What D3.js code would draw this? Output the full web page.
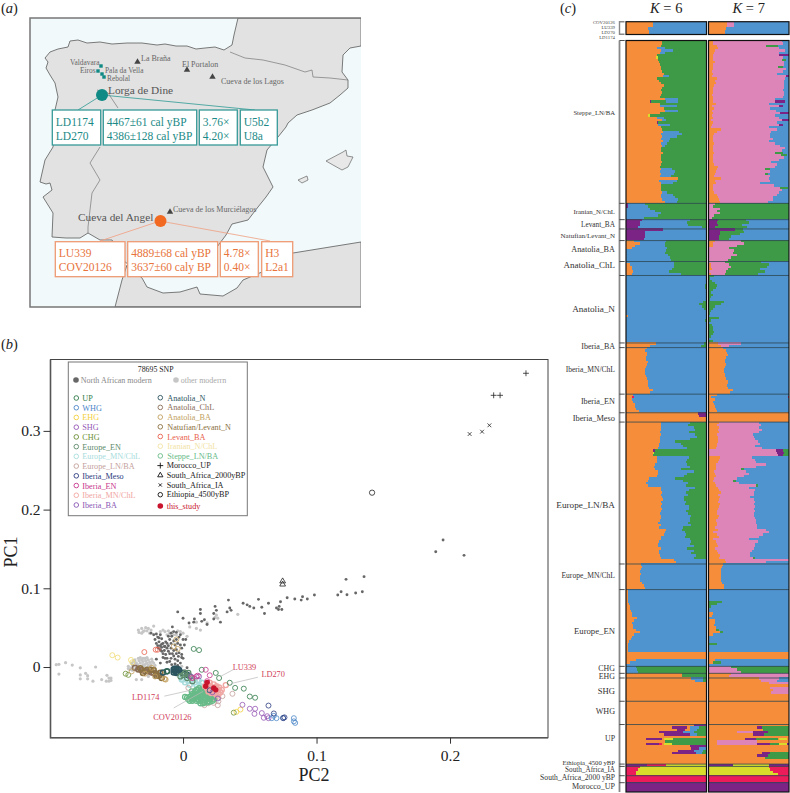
<!DOCTYPE html>
<html>
<head>
<meta charset="utf-8">
<script src="https://cdn.jsdelivr.net/npm/d3@7"></script>
<style>
body { margin: 0; background: #fff; }
svg { display: block; }
text { font-family: "Liberation Serif", serif; }
</style>
</head>
<body>
<div id="vis"></div>
<script>
// ---------- panel a: map outlines, in picture units ----------
var iberiaFrance = [[238,18],[234,35],[232,45],[224,50],[215,47],[205,48],[196,49],[187,46],[176,46],[165,44],[157,45],[142,43],[127,43],[112,44],[100,42],[87,43],[78,40],[70,41],[68,47],[58,49],[50,52],[45,58],[48,62],[46,68],[50,75],[55,83],[58,97],[55,110],[57,118],[53,147],[45,160],[40,182],[46,184],[50,183],[52,190],[43,197],[53,213],[52,237],[66,238],[80,238],[88,233],[100,240],[112,240],[125,262],[140,272],[200,272],[217,247],[226,235],[232,224],[248,220],[258,207],[266,197],[273,187],[263,167],[267,150],[278,137],[286,127],[288,123],[297,115],[312,110],[330,103],[340,95],[348,88],[348,80],[342,72],[343,55],[350,48],[361,46],[361,18]];
var africa = [[127,265],[122,280],[115,307],[361,307],[361,242],[330,247],[293,253],[262,272],[243,280],[237,288],[223,296],[200,294],[197,287],[180,292],[163,293],[147,287],[142,278]];
var mallorca = [[326,161],[343,152],[346,150],[347,156],[353,157],[348,167],[342,170],[333,165]];
var ibiza = [[298,180],[307,176],[308,180],[302,183]];
var pyrenees = [[230,52],[245,58],[263,60],[285,65],[305,72],[312,70],[313,77],[330,78],[348,80]];
var portugalNorth = [[97,90],[108,93],[118,108]];
var portugalEast = [[100,147],[90,163],[100,180],[92,193],[88,227],[88,233]];

var siteNames = ["Valdavara","Eiros","Pala da Vella","Rebolal","La Braña","El Portalon","Cueva de los Lagos","Cueva de los Murciélagos"];
var sitePos = [[70,65],[80,73],[105,72.5],[107,80.5],[141,61],[182,67],[221,84],[173,212]];
var triangleSites = [[137.5,62],[187,70],[212.5,77],[170,212]];
var squareSites = [[101,66],[98,71],[102,74],[104,77]];

var tealCells = [["LD1174","LD270"],["4467±61 cal yBP","4386±128 cal yBP"],["3.76×","4.20×"],["U5b2","U8a"]];
var orangeCells = [["LU339","COV20126"],["4889±68 cal yBP","3637±60 caly BP"],["4.78×","0.40×"],["H3","L2a1"]];

// ---------- panel b: PCA values as [PC2, PC1] ----------
var otherModern = [[-.095,.003],[-.093,.0034],[-.088,.0055],[-.083,.0025],[-.077,-.001],[-.0655,0],[-.093,-.009],[-.077,-.01],[-.073,-.008],[-.0715,-.011],[-.0715,-.015],[-.077,-.015],[-.0675,-.018],[-.061,-.016],[-.057,-.0105],[-.0555,-.014],[-.0575,-.018],[-.0555,-.018],[-.054,-.017],[-.054,-.014],
[-.041,.001],[-.0385,.005],[-.036,.009],[-.0335,.011],[-.031,.009],[-.0285,.011],[-.026,.009],[-.037,.001],[-.035,.005],[-.032,.005],[-.03,.003],[-.027,.005],[-.025,.001],[-.022,.005],[-.0335,-.001],[-.031,-.001],[-.027,-.001],[-.036,-.003],[-.039,-.001],[-.04,-.003],[-.03,.007],[-.0235,.01],
[-.038,.003],[-.036,.006],[-.034,.003],[-.033,.008],[-.03,.011],[-.028,.008],[-.029,.002],[-.025,.006],[-.024,.003],[-.041,-.002],[-.038,-.004],[-.035,.001],[-.034,-.003],[-.03,-.003],[-.028,.004],[-.026,.002],[-.023,.007],[-.021,.002],[-.032,.012],[-.027,.012],[-.037,.008],
[-.0335,.047],[-.031,.049],[-.03,.045],[-.026,.049],[-.022,.052],[-.025,.043],[-.031,.043],[-.027,.046],[-.029,.046],[-.028,.05],[-.024,.047],[-.033,.044],[-.035,-.016],[-.031,-.016],[-.026,-.012],
[-.0135,.045],[-.01,.043],[-.005,.041],[-.002,.045],[0,.043],[.003,.039],[-.012,.041],[-.007,.041],[-.017,.045],[-.015,.047],[-.011,.046],[-.008,.044],[-.004,.046],[-.001,.001],[.0015,-.012],[.005,-.016],[.01,-.016],[.013,-.018],[.004,-.012],[.008,-.012],
[.005,.051],[.01,.049],[.013,.047],[.01,.057],[.025,.066],[.026,.062],[.041,.067],[.018,.056],[.024,.063]];
var northAfrican = [[-.004,.07],[0,.062],[.0045,.056],[.008,.057],[.0085,.061],[.013,.073],[.013,.068],[.014,.058],[.016,.06],[.018,.054],[.023,.068],[.024,.077],[.025,.072],[.023,.061],[.028,.057],[.033,.07],[.034,.085],[.035,.075],[.036,.072],[.045,.081],[.048,.079],[.05,.077],[.053,.075],[.0565,.086],[.059,.076],[.061,.068],[.064,.081],[.07,.075],[.0715,.073],[.073,.083],[.074,.073],[.072,.077],[.078,.088],[.0837,.0865],[.0885,.085],[.0895,.0893],[.0931,.0864],[.0984,.0915],[.1159,.0915],[.1184,.0957],[.1228,.0919],[.1221,.1114],[.1293,.094],[.1343,.0957],[.1356,.1148],[.1893,.1465],[.1948,.1614],[.2105,.1419],
[-.024,.043],[-.022,.041],[-.02,.042],[-.017,.041],[-.021,.035],[-.018,.037],[-.02,.03],[-.017,.027],[-.015,.03],[-.013,.032],[-.011,.027],[-.01,.035],[-.0085,.039],[-.007,.045],[-.005,.044],[-.008,.051],[-.002,.041],[0,.035],[.002,.035],[.001,.028],[-.017,.022],[-.015,.017],[-.0135,.011],[-.012,.006],[-.009,.024],[-.011,.02],[-.007,.021],[-.005,.017],[-.0035,.0135],[-.001,.016],[0,.011],[-.006,.01],[-.002,.005],[-.0085,.003],[-.017,.005],[-.02,.01],[-.0135,.026],[-.016,.025],[-.0185,.024],[.003,-.001],[.0015,-.005],[-.009,.011],[-.012,.024],[-.006,.028],[-.005,.022],[-.001,.024],
[-.019,.027],[-.016,.029],[-.018,.032],[-.014,.026],[-.012,.03],[-.016,.02],[-.014,.021],[-.013,.016],[-.01,.017],[-.008,.017],[-.007,.014],[-.009,.03],[-.007,.033],[-.005,.035],[-.004,.03],[-.003,.038],[-.003,.018],[-.001,.012],[-.004,.008],[-.015,.012],[-.012,.011],[-.01,.007],[-.006,.004],[-.004,.002],[-.002,.028],[-.011,.039],[-.009,.043],[-.019,.038],[-.016,.036]];

var ptUP = [[.008,.023],[.012,.0215],[.014,-.0035],[.0245,-.0075],[.027,-.014],[.035,-.02],[.039,-.0265],[.0455,-.0275],[.05,-.0375],[.054,-.039],[-.012,-.0055]];
var ptWHG = [[.083,-.065],[.084,-.071],[.07,-.065],[.0665,-.065],[.068,-.062],[.075,-.0645],[.083,-.069]];
var ptEHG = [[.043,-.054],[.04,-.057]];
var ptSHG = [[.0445,-.048],[.05,-.053],[.054,-.053],[.0535,-.0595],[.059,-.0585],[.0605,-.0645],[.063,-.0625],[.064,-.065]];
var ptCHG = [[-.043,-.0085],[-.041,-.01],[.038,-.058]];
var ptEuropeEN = [[0,-.01],[.003,-.014],[.005,-.012],[-.002,-.012],[.0015,-.0075],[.007,-.018],[.004,-.0075]];
var ptEuropeMN = [[-.001,-.012],[0,-.016],[.0015,-.0195],[.004,-.018],[.0065,-.016],[.009,-.0195],[.0115,-.017],[.014,-.02],[.005,-.0225],[.01,-.0225],[.013,-.0245],[-.001,-.016]];
var ptEuropeLN = [[.016,-.0485],[.026,-.0485],[.037,-.034],[.0295,-.037],[.0265,-.039],[.023,-.0455],[.019,-.046],[.0265,-.0435],[.0065,-.014],[.004,-.0265],[.024,-.041]];
var ptIberiaMeso = [[.064,-.049],[.068,-.059],[.075,-.065],[.02,-.0295],[.076,-.064]];
var ptIberiaEN = [[.017,-.0035],[.01,-.012],[.02,-.0105],[.018,-.018],[.007,-.014],[.011,-.011]];
var ptIberiaMN = [[.02,-.0245],[.023,-.022],[.025,-.0245],[.0265,-.029],[.028,-.032],[.024,-.0295],[.0215,-.028],[.019,-.031],[.025,-.035],[.023,-.033],[.0265,-.035],[.0165,-.0245],[.02,-.02],[.032,-.023],[.018,-.027],[.021,-.025],[.022,-.03],[.025,-.027],[.027,-.026],[.019,-.023],[.024,-.033],[.021,-.033],[.029,-.029]];
var ptIberiaBA = [[.012,-.012],[.022,-.032],[.026,-.04],[.006,-.012]];
var ptAnatoliaN = [[-.007,-.003],[-.006,-.0055],[-.005,-.004],[-.0035,-.007],[-.005,-.0075],[-.004,-.0025],[-.007,-.007],[-.003,-.004],[-.006,-.002],[-.012,-.0055],[-.015,-.007],[0,-.0075],[.003,-.01]];
var ptAnatoliaChL = [[-.036,-.001],[-.0335,-.003],[-.031,-.004],[-.0285,-.0055],[-.026,-.0055],[-.0235,-.007],[-.022,-.0075],[-.02,-.0085]];
var ptAnatoliaBA = [[-.0285,-.0085],[-.021,-.012],[-.014,-.015],[-.0135,-.0155],[-.013,-.016],[-.007,.026],[-.004,.023],[-.005,.035],[-.0235,-.001],[-.0385,-.0055]];
var ptNatufian = [[-.018,-.011],[-.016,-.014],[-.024,-.0035],[-.027,-.0035],[-.03,-.0075],[-.032,-.0015],[-.022,-.004],[-.02,-.011],[-.017,-.0075]];
var ptLevant = [[-.029,.019],[-.0205,.022],[-.019,.022]];
var ptIranian = [[-.039,.009],[-.038,.006],[-.053,.015],[-.049,.012]];
var ptSteppe = [[.0015,-.038],[.004,-.041],[.006,-.037],[.008,-.041],[.01,-.037],[.0115,-.041],[.013,-.035],[.014,-.039],[.016,-.042],[.018,-.037],[.02,-.0405],[.021,-.035],[.0065,-.031],[.01,-.029],[.013,-.031],[.015,-.032],[.018,-.031],[.008,-.035],[.01,-.043],[.013,-.046],[.015,-.046],[.009,-.031],[.005,-.043],[.019,-.043],[.023,-.037],[.023,-.041],[.0115,-.034],[.014,-.034],[.0165,-.034],[.0165,-.039],[.009,-.039],[.0065,-.04],[.013,-.041],[.018,-.035],
[.007,-.034],[.009,-.036],[.011,-.038],[.012,-.033],[.015,-.036],[.017,-.036],[.019,-.039],[.021,-.039],[.022,-.043],[.012,-.043],[.014,-.043],[.016,-.045],[.018,-.045],[.02,-.044],[.007,-.043],[.005,-.038],[.003,-.039],[.008,-.038],[.011,-.029],[.012,-.027],[.014,-.029],[.017,-.028]];
var ptThisStudy = [[.017,-.0245],[.018,-.0195],[.023,-.0265],[.0245,-.029]];
var ptMorocco = [[.2569,.3732],[.2327,.3452],[.2375,.3452]];
var ptSouthAfrica2000 = [[.0746,.109],[.0746,.105]];
var ptSouthAfricaIA = [[.2147,.296],[.224,.299],[.2295,.3071]];
var ptEthiopia = [[.1416,.2215]];

var pcTicksX = [0, 0.1, 0.2];
var pcTicksY = [0, 0.1, 0.2, 0.3];

var legendCol1 = ["UP","WHG","EHG","SHG","CHG","Europe_EN","Europe_MN/ChL","Europe_LN/BA","Iberia_Meso","Iberia_EN","Iberia_MN/ChL","Iberia_BA"];
var legendCol1Colors = ["#2f7a48","#4b86c8","#f2cf3c","#9457b5","#6c8f35","#5c8a6a","#a8dcdc","#c4a09c","#2c3c80","#c7368c","#f0a6a2","#8a58b4"];
var legendCol2 = ["Anatolia_N","Anatolia_ChL","Anatolia_BA","Natufian/Levant_N","Levant_BA","Iranian_N/ChL","Steppe_LN/BA"];
var legendCol2Colors = ["#2c5560","#8a6d58","#c19f5e","#8a7040","#e8604c","#f2e2a2","#68bb88"];
var legendSpecial = ["Morocco_UP","South_Africa_2000yBP","South_Africa_IA","Ethiopia_4500yBP"];

var annotNames = ["LU339","LD270","LD1174","COV20126"];
var annotText = [[.046,.0],[.0675,-.0085],[-.028,-.0385],[-.008,-.0635]];
var annotFrom = [[.038,-.003],[.056,-.013],[-.014,-.037],[-.007,-.052]];
var annotTo = [[.028,-.012],[.036,-.021],[.007,-.029],[.015,-.031]];

// ---------- panel c: admixture rows, top to bottom, letters are components ----------
// o orange, b blue, g green, p pink, v purple, y yellow, r red, number is percent, no number = the rest
var compColors = {o:"#f68d3a", b:"#4f93cf", g:"#3f9a48", p:"#dd84b8", v:"#7c2485", y:"#d8dd2c", r:"#ec1c5b"};

var sampleK6 = ["o34b","o34b","o27b","o28b"];
var sampleK7 = ["o23p9b","o23p9b","o22b","o21b"];
var sampleNames = ["COV20126","LU339","LD270","LD1174"];

var groupNames = ["Steppe_LN/BA","Iranian_N/ChL","Levant_BA","Natufian/Levant_N","Anatolia_BA","Anatolia_ChL","Anatolia_N","Iberia_BA","Iberia_MN/ChL","Iberia_EN","Iberia_Meso","Europe_LN/BA","Europe_MN/ChL","Europe_EN","CHG","EHG","SHG","WHG","UP","Ethiopia_4500 yBP","South_Africa_IA","South_Africa_2000 yBP","Morocco_UP"];
var groupCounts = [70,7,4,5,9,6,29,2,20,8,4,61,11,33,3,2,10,10,17,1,4,3,4];

var steppeK6 = ["o45g","o45g","o44g","o38b10g","o44b14g","o42b6g","o38g","o37y3g","o40g","o41g","o42g","o44g","o43g","o45g","o47g","o46b7g","o38g","o41g","o44g","o47g","o45g","o43g","o45g","o44g","o42g","o49b16g","o30v1g19b15g","o42g","o42b21g","o47g","o48b17g","o42g","o27y3g","o39b8g","o45b5g","o39v1g","o40b15g","o43g","o45g","o46b20g","o44b26g","o45b18g","o43b12g","o46b8g","o44b7g","o45b3g","o43g","o44g","o46g","o43g","o43g","o44g","o45g","o43g","o42g","o43b14g","o42b19g","o43b17g","o42b14g","o65g","o41b22g","o44b15g","o43g","o44g","o44g","o45b6g","o44b14g","o43b18g","o45b20g","o48b15g"];
var steppeK7 = ["o5p86b","o5p87b","o10p62g14b","o12p76b","o8p87b","o7p81b","o6p82v","o5p88b","o5p86g5b","o8p86b","o6p88b","o6p80g6b","o6p90b","o4p89b","o5p80b","o4p92v","o10p85b","o8p86b","o9p85b","o7p87b","o5p89b","o6p86b","o6p88b","o4p90b","o6p86b","o6p76b","o5p78v12b","o9p66b","o4p83v5b","o7p70b","o4p80b","o5p84v","o4p78b","o6p81b","o3p88v","o5p80b","o4p83v5b","o3p72b","o15p70b","o10p68b","o7p70b","o5p72b","o6p74b","o5p70b","o7p75b","o6p83b","o5p90b","o5p86b","o7p75g10b","o5p85g8b","o6p88b","o6p82b","o6p72b","o7p78b","o12p70b","o10p60g6b","o9p68b","o8p62g4b","o7p70b","o15p60b","o8p68b","o9p55b","o6p75b","o5p84g10b","o5p86b","o7p80b","o10p75b","o12p68b","o13p67b","o14p60b"];

var iranianK6 = ["v2b22g","v2b25g","b30g","b36g","b43g","b40g","b22g"];
var iranianK7 = ["p8g","p6g","p14g","p10g","p14g","p7g","p4g"];
var levantK6 = ["v20b60g","v18b58g","v17b60g","v15b80g"];
var levantK7 = ["v12g35b","v10g40b","v12g30b","v8g40b"];
var natufianK6 = ["v46b","v24b","v24b","v23b","v22b"];
var natufianK7 = ["v33g10b","v14g30b","v14g25b","v13g15b","v13g12b"];
var anatoliaBaK6 = ["o10b40g","o17b32g","o11b37g","o8b43g","b50g","b48g","b52g","b55g","b56g"];
var anatoliaBaK7 = ["o8p32g","o6p38g","o5p30g","p25g","p32g","p30g","p36g","p28g","p24g"];
var anatoliaChlK6 = ["b60g","o5b55g","o8b52g","o8b49g","o9b44g","o8b60g"];
var anatoliaChlK7 = ["p20g45b","o3p22g50b","o3p25g45b","o4p20g40b","p22g48b","o3p18g40b"];
var anatoliaNK6 = ["b","b","b","b99g","b98g","b98g","b","b","b","b","b","b96g","b91g","b94g","b97g","b","b","o2b","b","b98g","b","b","b","b","b","b","b","b","b"];
var anatoliaNK7 = ["g7b","g2b","g4b","g8b","g10b","g9b","g5b","g3b","g5b","g3b","g2b","g19b","g16b","g8b","g5b","g3b","g2b","b","g13b","g3b","b","g4b","g6b","g6b","g7b","g5b","g3b","b","g6b"];
var iberiaBaK6 = ["o37b60g","o30b63g"];
var iberiaBaK7 = ["o12p28b","o15p10b"];
var iberiaMnK6 = ["o26b","o24b","o26b","o26b","o25b","o25b","o27b","o26b","o25b","o23b","o23b","o24b","o25b","o26b","o27b","o27b","o27b","o28b","o33b","o30b"];
var iberiaMnK7 = ["o18b","o22b","o23b","o24b","o22b","o20b","o21b","o22b","o20b","o19b","o19b","o20b","o21b","o22b","o24b","o24b","o23b","o24b","o31b","o27b"];
var iberiaEnK6 = ["o9b","o7r3b","o8b","o9b","o11b","o11b","o12b","o16b"];
var iberiaEnK7 = ["o10b","o3b96r","o8b","o5b","o7b","o8b","o9b","o10b"];
var iberiaMesoK6 = ["o90v","o91v","o","o"];
var iberiaMesoK7 = ["o","o","o","o"];
var europeLnK6 = ["o43b36g","o43b34g","o44b40g","o43b43g","o42b36g","o43b43g","o42b46g","o42b37g","o42b19g","o41b27g","o41b30g","o40b36g","o34v2g","o33y2g","o33g","o39b39g","o38b38g","o39b35g","o36b40g","o35b44g","o36b32g","o40b44g","o40b36g","o38b34g","o28b33g","o27b44g","o25b52g","o27b47g","o43b43g","o44b34g","o45b29g","o43b34g","o45b27g","o46b26g","o44b30g","o45b28g","o44b34g","o45b33g","o44b31g","o42b35g","o43b38g","o44b36g","o42b38g","o40b37g","o44b37g","o41b30g","o50b20g","o48b25g","o47b27g","o43b30g","o44b36g","o41b40g","o40b40g","o40b45g","o44b32g","o41b44g","o41b40g","o42b45g","o44b40g","o60b","o62b"];
var europeLnK7 = ["o13p50b","o10p55b","o13p50b","o12p55b","o13p50b","o10p45b","o12p45b","o12p46b","o12p50b","o11p53b","o10p48b","o9p58b","p84v9g","p85v9g","p86v7g","o14p40b","o13p45b","o12p47b","o9p62b","o9p50b","o9p31g4b","o7p40b","o8p42b","o9p35b","o7p28b","o6p25g3b","o8p30b","o9p50g2b","o12p38b","o13p45b","o15p42b","o12p44b","o14p38b","o13p44b","o12p46b","o14p42b","o13p45b","o12p44b","o10p48b","o11p46b","o13p44b","o12p46b","o9p50b","o11p48b","o10p50b","o8p52b","o12p60b","o5p70b","o10p58b","o13p50b","o5p45b","o9p52b","o10p48b","o12p46b","o8p48b","o10p44b","o12p40b","o14p38b","o13p42g3b","o20p","o22p50b"];
var europeMnK6 = ["o19b","o20b","o19b","o18b","o19b","o18b","o17b","o18b","o20b","o22b","o23b"];
var europeMnK7 = ["o18b","o17b","o16b","o16b","o15b","o16b","o16b","o15b","o17b","o19b","o19b"];
var europeEnK6 = ["o3b","o2b","o2b","o3b","o3b","o3b","o4b","o5b","o5b","o6b","o8b","o8b","o14b","o10b","o8b","o9b","o9b","o13b","o18b","o10b","o8b","o6b","o4b","o3b","o3b","o3b","o3b","o","o","o","o13b","o5b","b"];
var europeEnK7 = ["b","b","b","b","b","g17b","g10b","g3b","b","b","o5b","o4b","b","o8b","o8b","o7b","o9b","o9g4b","o14g4b","o5b","b","b","b","g11b","b","b","b","o","o","o","o8b","o5g10b","b"];
var chgK6 = ["b13g","b14g","b15g"];
var chgK7 = ["p28g","p36g","p40g"];
var ehgK6 = ["o70g","o70g"];
var ehgK7 = ["o28p","o25p"];
var shgK6 = ["o81b15g","o86b10g","o","o","o","o","o","o","o","o"];
var shgK7 = ["o63p25b","o65p20b","o75p","o","o77p","o80p","o78p","o","o","o"];
var whgK6 = ["o","o","o","o","o","o","o","o","o","o"];
var whgK7 = ["o","o","o","o","o","o","o","o","o","o"];
var upK6 = ["o84v","o57v19o4b11g","o63v10o7b8g","o41v30b13g","o47v32b9g","o","o25v20o2y12g","o48g","o25v16r4o2y10g","o80v","o81v10b","o65v19b12g","o57v30b8g","o","o","o","o"];
var upK7 = ["o","o60v7g","o68g","o35p20v19g","o55v14g","o","o45v14g27o2y9o","o10p50o","o10p50v16g12y9v","o","o","o","o66v10g","o60v14g","o70g","o","o"];
var ethiopiaK6 = ["v26r24y"];
var ethiopiaK7 = ["v31y44v"];
var southAfricaIaK6 = ["r18y","r15y","r13y","r13y"];
var southAfricaIaK7 = ["y75r","y77r","y80r","y86r"];
var southAfrica2000K6 = ["r","r","r"];
var southAfrica2000K7 = ["r","r","r"];
var moroccoK6 = ["v","v","v","v"];
var moroccoK7 = ["v","v","v","v"];

var rowsK6 = [steppeK6,iranianK6,levantK6,natufianK6,anatoliaBaK6,anatoliaChlK6,anatoliaNK6,iberiaBaK6,iberiaMnK6,iberiaEnK6,iberiaMesoK6,europeLnK6,europeMnK6,europeEnK6,chgK6,ehgK6,shgK6,whgK6,upK6,ethiopiaK6,southAfricaIaK6,southAfrica2000K6,moroccoK6];
var rowsK7 = [steppeK7,iranianK7,levantK7,natufianK7,anatoliaBaK7,anatoliaChlK7,anatoliaNK7,iberiaBaK7,iberiaMnK7,iberiaEnK7,iberiaMesoK7,europeLnK7,europeMnK7,europeEnK7,chgK7,ehgK7,shgK7,whgK7,upK7,ethiopiaK7,southAfricaIaK7,southAfrica2000K7,moroccoK7];

// ---------- page ----------
var svg = d3.select("#vis").append("svg").attr("width", 790).attr("height", 793);

var addText = function(g, str, x, y, size, color, anchor) {
    return g.append("text").text(str).attr("x", x).attr("y", y)
        .attr("font-size", size).attr("fill", color || "#222")
        .attr("text-anchor", anchor || "start");
};

// panel letters
[["a",1,13],["b",1,349],["c",560,13]].forEach(function(d) {
    var t = svg.append("text").attr("x", d[1]).attr("y", d[2]).attr("font-size", 14.5).attr("fill", "#222");
    t.append("tspan").text("(");
    t.append("tspan").attr("font-style", "italic").text(d[0]);
    t.append("tspan").text(")");
});

// ========== panel a ==========
var drawMap = function() {
    var mapX = d3.scaleLinear().domain([30, 361]).range([30, 361]);
    var mapY = d3.scaleLinear().domain([18, 307]).range([18, 307]);
    var coast = d3.line().x(function(d) { return mapX(d[0]); }).y(function(d) { return mapY(d[1]); });
    var g = svg.append("g");

    g.append("clipPath").attr("id", "mapclip").append("rect")
        .attr("x", 30).attr("y", 18).attr("width", 331).attr("height", 289);
    var land = g.append("g").attr("clip-path", "url(#mapclip)");
    land.append("rect").attr("x", 30).attr("y", 18).attr("width", 331).attr("height", 289).attr("fill", "#f1f9fa");

    [iberiaFrance, africa].forEach(function(d) {
        land.append("path").attr("d", coast(d) + "Z").attr("fill", "#e2e2e2").attr("stroke", "#5a5a5a").attr("stroke-width", 0.8);
    });
    [mallorca, ibiza].forEach(function(d) {
        land.append("path").attr("d", coast(d) + "Z").attr("fill", "#e8e8e8").attr("stroke", "#666").attr("stroke-width", 0.7);
    });
    [pyrenees, portugalNorth, portugalEast].forEach(function(d) {
        land.append("path").attr("d", coast(d)).attr("fill", "none").attr("stroke", "#777").attr("stroke-width", 0.7);
    });

    // panel frame, right side is open
    g.append("path").attr("d", "M361,18H30V307H361").attr("fill", "none").attr("stroke", "#777").attr("stroke-width", 1.5);

    var tri = d3.symbol().type(d3.symbolTriangle).size(18);
    g.selectAll(".tri").data(triangleSites).enter().append("path")
        .attr("d", tri).attr("fill", "#444")
        .attr("transform", function(d) { return "translate(" + mapX(d[0]) + "," + mapY(d[1]) + ")"; });
    g.selectAll(".sq").data(squareSites).enter().append("rect")
        .attr("x", function(d) { return mapX(d[0]) - 1.7; }).attr("y", function(d) { return mapY(d[1]) - 1.7; })
        .attr("width", 3.4).attr("height", 3.4).attr("fill", "#0f8a84");

    siteNames.forEach(function(name, i) {
        addText(g, name, mapX(sitePos[i][0]), mapY(sitePos[i][1]), i < 4 ? 7.4 : 8, "#666");
    });
    addText(g, "Lorga de Dine", 108, 94, 11.3, "#555");
    addText(g, "Cueva del Angel", 78, 221, 11.3, "#555");

    // leader lines then dots
    g.append("path").attr("d", "M78,110L102,95L255,110").attr("fill", "none").attr("stroke", "#2f9a94").attr("stroke-width", 0.8);
    g.append("path").attr("d", "M100,241L160,221L270,241").attr("fill", "none").attr("stroke", "#f0a080").attr("stroke-width", 0.8);
    g.append("circle").attr("cx", 102).attr("cy", 95).attr("r", 6).attr("fill", "#0f8a84");
    g.append("circle").attr("cx", 160.5).attr("cy", 221).attr("r", 6).attr("fill", "#f26a21");

    var boxes = function(cells, xs, top, bottom, stroke, color, y1, y2) {
        cells.forEach(function(lines, i) {
            g.append("rect").attr("x", xs[i][0]).attr("y", top).attr("width", xs[i][1] - xs[i][0]).attr("height", bottom - top)
                .attr("fill", "#fff").attr("stroke", stroke).attr("stroke-width", 1.3);
            addText(g, lines[0], xs[i][0] + 3.5, y1, 11.5, color);
            addText(g, lines[1], xs[i][0] + 3.5, y2, 11.5, color);
        });
    };
    boxes(tealCells, [[52.3,100.7],[103.3,196.7],[199.3,237.3],[240.3,277.3]], 110, 145, "#379a98", "#1b8a86", 125.5, 139.5);
    boxes(orangeCells, [[55.3,125],[127.7,217.7],[220.3,258.3],[261.7,292.7]], 241.7, 276.7, "#ee9a72", "#e8743b", 257, 271);
};
drawMap();

// ========== panel b ==========
var drawPlot = function() {
    var x = d3.scaleLinear().domain([-0.0993, 0.2734]).range([50.5, 548]);
    var y = d3.scaleLinear().domain([-0.0898, 0.3907]).range([737.7, 359.5]);
    var g = svg.append("g");

    g.append("rect").attr("x", 50.5).attr("y", 359.5).attr("width", 497.5).attr("height", 378.2)
        .attr("fill", "none").attr("stroke", "#444").attr("stroke-width", 1);
    g.append("path").attr("d", "M50.5,359.5V737.7H548").attr("fill", "none").attr("stroke", "#555").attr("stroke-width", 1.6);

    var axisX = g.append("g").attr("transform", "translate(0,737.7)")
        .call(d3.axisBottom(x).tickValues(pcTicksX).tickSize(6).tickPadding(6).tickFormat(function(d) { return d === 0 ? "0" : d3.format(".1f")(d); }));
    var axisY = g.append("g").attr("transform", "translate(50.5,0)")
        .call(d3.axisLeft(y).tickValues(pcTicksY).tickSize(7).tickPadding(3).tickFormat(function(d) { return d === 0 ? "0" : d3.format(".1f")(d); }));
    [axisX, axisY].forEach(function(a) {
        a.select(".domain").remove();
        a.selectAll("line").attr("stroke", "#333");
        a.selectAll("text").attr("font-size", 15.5).attr("fill", "#222").style("font-family", '"Liberation Serif", serif');
    });
    addText(g, "PC2", 314, 781, 18, "#222", "middle");
    g.append("text").text("PC1").attr("transform", "translate(17,552) rotate(-90)")
        .attr("font-size", 18).attr("fill", "#222").attr("text-anchor", "middle");

    var dots = function(list, color, r) {
        g.append("g").selectAll("circle").data(list).enter().append("circle")
            .attr("cx", function(d) { return x(d[0]); }).attr("cy", function(d) { return y(d[1]); })
            .attr("r", r).attr("fill", color);
    };
    var rings = function(list, color, width) {
        g.append("g").selectAll("circle").data(list).enter().append("circle")
            .attr("cx", function(d) { return x(d[0]); }).attr("cy", function(d) { return y(d[1]); })
            .attr("r", 2.5).attr("fill", "none").attr("stroke", color).attr("stroke-width", width || 0.8);
    };
    var marks = function(list, type, size, color) {
        var sym = d3.symbol().type(type).size(size);
        g.append("g").selectAll("path").data(list).enter().append("path")
            .attr("d", sym).attr("fill", "none").attr("stroke", color).attr("stroke-width", 0.8)
            .attr("transform", function(d) { return "translate(" + x(d[0]) + "," + y(d[1]) + ")"; });
    };

    dots(otherModern, "#c6c6c6", 1.6);
    dots(northAfrican, "#676767", 1.45);

    rings(ptIranian, "#efdb72");
    rings(ptEHG, legendCol1Colors[2]);
    rings(ptCHG, legendCol1Colors[4]);
    rings(ptLevant, legendCol2Colors[4]);
    rings(ptAnatoliaChL, legendCol2Colors[1], 1.6);
    rings(ptNatufian, legendCol2Colors[3], 1.6);
    rings(ptAnatoliaBA, legendCol2Colors[2]);
    rings(ptAnatoliaN, legendCol2Colors[0], 1.6);
    rings(ptEuropeMN, legendCol1Colors[6], 1.4);
    rings(ptEuropeEN, legendCol1Colors[5], 1.2);
    rings(ptEuropeLN, legendCol1Colors[7]);
    rings(ptSteppe, legendCol2Colors[6], 1.3);
    rings(ptIberiaMN, legendCol1Colors[10], 1.4);
    rings(ptIberiaBA, legendCol1Colors[11]);
    rings(ptUP, legendCol1Colors[0]);
    rings(ptIberiaEN, legendCol1Colors[9]);
    rings(ptSHG, legendCol1Colors[3]);
    rings(ptWHG, legendCol1Colors[1]);
    rings(ptIberiaMeso, legendCol1Colors[8]);
    dots(ptThisStudy, "#c8142c", 2.7);

    marks(ptMorocco, d3.symbolPlus, 13, "#222");
    marks(ptSouthAfrica2000, d3.symbolTriangle2, 24, "#222");
    marks(ptSouthAfricaIA, d3.symbolTimes, 11, "#222");
    marks(ptEthiopia, d3.symbolCircle, 22, "#222");

    // sample labels with leaders
    annotNames.forEach(function(name, i) {
        addText(g, name, x(annotText[i][0]), y(annotText[i][1]) + 3, 8.3, "#d0405a", "middle");
        g.append("line").attr("x1", x(annotFrom[i][0])).attr("y1", y(annotFrom[i][1]))
            .attr("x2", x(annotTo[i][0])).attr("y2", y(annotTo[i][1]))
            .attr("stroke", "#b9b9b9").attr("stroke-width", 0.7);
    });

    // legend
    var leg = g.append("g");
    leg.append("rect").attr("x", 68.3).attr("y", 362).attr("width", 179).attr("height", 153.7)
        .attr("fill", "#fff").attr("stroke", "#777").attr("stroke-width", 1);
    addText(leg, "78695 SNP", 155.7, 371.5, 7.8, "#222", "middle");
    leg.append("circle").attr("cx", 76).attr("cy", 380).attr("r", 2.8).attr("fill", "#676767");
    addText(leg, "North African modern", 80.7, 383, 8, "#888");
    leg.append("circle").attr("cx", 176).attr("cy", 380).attr("r", 2.8).attr("fill", "#c6c6c6");
    addText(leg, "other moderrn", 180.7, 383, 8, "#aaa");

    var legRow1 = d3.scaleLinear().domain([0, 11]).range([398, 505]);
    legendCol1.forEach(function(name, i) {
        leg.append("circle").attr("cx", 76.3).attr("cy", legRow1(i)).attr("r", 2.3)
            .attr("fill", "none").attr("stroke", legendCol1Colors[i]).attr("stroke-width", 0.9);
        addText(leg, name, 82.3, legRow1(i) + 3, 8.2, legendCol1Colors[i]);
    });
    var legRow2 = d3.scaleLinear().domain([0, 10]).range([397.7, 494.7]);
    legendCol2.forEach(function(name, i) {
        leg.append("circle").attr("cx", 160.3).attr("cy", legRow2(i)).attr("r", 2.3)
            .attr("fill", "none").attr("stroke", legendCol2Colors[i]).attr("stroke-width", 0.9);
        addText(leg, name, 167.3, legRow2(i) + 3, 8.2, legendCol2Colors[i]);
    });
    var specials = [d3.symbolPlus, d3.symbolTriangle2, d3.symbolTimes, d3.symbolCircle];
    var specialSize = [13, 20, 8, 16];
    legendSpecial.forEach(function(name, i) {
        leg.append("path").attr("d", d3.symbol().type(specials[i]).size(specialSize[i]))
            .attr("fill", "none").attr("stroke", "#111").attr("stroke-width", 0.9)
            .attr("transform", "translate(160.3," + legRow2(i + 7) + ")");
        addText(leg, name, 166.7, legRow2(i + 7) + 2.5, 8.2, "#222");
    });
    leg.append("circle").attr("cx", 160.3).attr("cy", 506).attr("r", 2.8).attr("fill", "#c8142c");
    addText(leg, "this_study", 166.7, 509, 8.2, "#c8142c");
};
drawPlot();

// ========== panel c ==========
var parseRow = function(str) {
    var parts = [], used = 0, m, re = /([a-z])(\d*)/g;
    while ((m = re.exec(str))) {
        var w = m[2] === "" ? 100 - used : +m[2];
        parts.push({c: m[1], from: used, to: used + w});
        used += w;
    }
    return parts;
};

var groupLabelY = [113,212,225,236,250,265.5,309,346.5,370,401.5,418.5,505,576,631,669,676.5,691,712,738.5,762.5,770,778,787];
var groupLabelSize = [6.7,6.8,7.3,7,8.2,9,9.2,8,7.6,8.2,8.4,9.2,7.6,8.7,7.9,7.9,8.6,8.1,7.8,6.7,7.2,7.6,8];

var drawBars = function() {
    var g = svg.append("g");
    var panels = [{range: [626, 706.5], top: sampleK6, rows: rowsK6, label: "6"},
                  {range: [708.5, 789], top: sampleK7, rows: rowsK7, label: "7"}];

    var total = d3.sum(groupCounts);
    var rowY = d3.scaleLinear().domain([0, total]).range([40.5, 792]);
    var edges = d3.cumsum(groupCounts);
    var groupTop = function(i) { return rowY(i === 0 ? 0 : edges[i - 1]); };
    var groupBottom = function(i) { return rowY(edges[i]); };

    var drawRows = function(rows, x, y0, y1) {
        var band = d3.scaleBand().domain(d3.range(rows.length)).range([y0, y1]);
        rows.forEach(function(str, r) {
            g.selectAll(null).data(parseRow(str)).enter().append("rect")
                .attr("shape-rendering", "crispEdges")
                .attr("x", function(d) { return x(d.from); })
                .attr("width", function(d) { return x(d.to) - x(d.from); })
                .attr("y", Math.floor(band(r))).attr("height", Math.ceil(band.bandwidth()) + 1)
                .attr("fill", function(d) { return compColors[d.c]; });
        });
    };

    panels.forEach(function(p) {
        var x = d3.scaleLinear().domain([0, 100]).range(p.range);
        drawRows(p.top, x, 22, 33.5);
        p.rows.forEach(function(rows, i) { drawRows(rows, x, groupTop(i), groupBottom(i) - (i === p.rows.length - 1 ? 1 : 0)); });

        // group separators
        groupCounts.forEach(function(c, i) {
            if (i === groupCounts.length - 1) return;
            g.append("line").attr("x1", p.range[0]).attr("x2", p.range[1])
                .attr("y1", groupBottom(i)).attr("y2", groupBottom(i))
                .attr("stroke", "#2c4650").attr("stroke-width", 0.8);
        });
        g.append("rect").attr("x", p.range[0]).attr("y", 21.7).attr("width", p.range[1] - p.range[0]).attr("height", 12.8)
            .attr("fill", "none").attr("stroke", "#111").attr("stroke-width", 1.2);
        g.append("rect").attr("x", p.range[0]).attr("y", 40.5).attr("width", p.range[1] - p.range[0]).attr("height", 751.5)
            .attr("fill", "none").attr("stroke", "#111").attr("stroke-width", 1.2);

        var t = g.append("text").attr("x", (p.range[0] + p.range[1]) / 2).attr("y", 13)
            .attr("text-anchor", "middle").attr("font-size", 14.5).attr("fill", "#222");
        t.append("tspan").attr("font-style", "italic").text("K");
        t.append("tspan").text(" = " + p.label);
    });

    // brackets at the left
    g.append("path").attr("d", "M624.5,21.7H619.5V34.3H624.5").attr("fill", "none").attr("stroke", "#888").attr("stroke-width", 1.4);
    g.append("line").attr("x1", 619.5).attr("x2", 619.5).attr("y1", 40.5).attr("y2", 792).attr("stroke", "#888").attr("stroke-width", 1.8);
    g.selectAll(".tick").data(d3.range(groupCounts.length)).enter().append("line")
        .attr("x1", 619.5).attr("x2", 624.7)
        .attr("y1", function(i) { return groupTop(i); }).attr("y2", function(i) { return groupTop(i); })
        .attr("stroke", "#222").attr("stroke-width", 0.8);

    sampleNames.forEach(function(name, i) {
        addText(g, name, 615, 24 + i * 4.9, 4.8, "#444", "end");
    });
    groupNames.forEach(function(name, i) {
        addText(g, name, 615, groupLabelY[i] + groupLabelSize[i] * 0.3, groupLabelSize[i], "#333", "end");
    });
};
drawBars();
</script>
</body>
</html>
